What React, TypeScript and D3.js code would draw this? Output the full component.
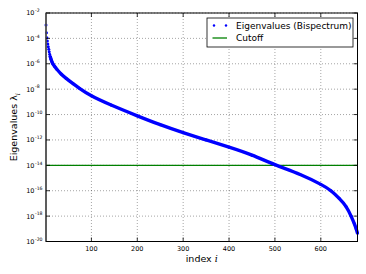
import * as d3 from "d3";

// eigenvalue index and value
const eigIndex = [1, 2, 3, 4, 5, 6, 7, 8, 9, 10, 12, 14, 16, 20, 25, 34, 45, 60, 74, 100, 143, 200, 250, 300, 350, 400, 450, 500, 555, 600, 622, 640, 655, 666, 673, 677, 680];
const eigExp = [-2.95, -3.55, -3.95, -4.2, -4.45, -4.65, -4.85, -5.05, -5.25, -5.4, -5.65, -5.85, -6.0, -6.22, -6.45, -6.8, -7.15, -7.57, -7.93, -8.52, -9.25, -10.1, -10.8, -11.43, -12.0, -12.57, -13.2, -13.95, -14.72, -15.5, -16.0, -16.6, -17.25, -18.0, -18.6, -19.0, -19.35];
const cutoff = 1e-14;

const xTicks = [100, 200, 300, 400, 500, 600];
const yTickExps = [-20, -18, -16, -14, -12, -10, -8, -6, -4, -2];

const W = 366, H = 274;
const left = 46, right = 357.5, top = 13, bottom = 241.5;

export default function App() {
    const x = d3.scaleLinear().domain([1, 680]).range([left, right]);
    const y = d3.scaleLog().domain([1e-20, 1e-2]).range([bottom, top]);

    const pts = eigIndex.map((d, i) => ({ i: d, v: Math.pow(10, eigExp[i]) }));

    const line = d3.line<{ i: number; v: number }>()
        .x(d => x(d.i))
        .y(d => y(d.v))
        .curve(d3.curveNatural);

    const font = "DejaVu Sans, sans-serif";

    return (
        <svg width={W} height={H} style={{ position: "absolute", left: 0, top: 0, background: "#fff" }} fontFamily={font}>
            {/* grid */}
            {xTicks.map(t => (
                <line key={"gx" + t} x1={x(t)} x2={x(t)} y1={top} y2={bottom} stroke="#000" strokeOpacity={0.45} strokeWidth={0.8} strokeDasharray="1,2" />
            ))}
            {yTickExps.map(e => (
                <line key={"gy" + e} x1={left} x2={right} y1={y(Math.pow(10, e))} y2={y(Math.pow(10, e))} stroke="#000" strokeOpacity={0.45} strokeWidth={0.8} strokeDasharray="1,2" />
            ))}

            {/* cutoff */}
            <line x1={left} x2={right} y1={y(cutoff)} y2={y(cutoff)} stroke="#008000" strokeWidth={1.3} />

            {/* eigenvalues */}
            <path d={line(pts.filter(p => p.i >= 10)) ?? ""} fill="none" stroke="#0000ff" strokeWidth={3.4} />
            {pts.map(p => (
                <circle key={"p" + p.i} cx={x(p.i)} cy={y(p.v)} r={1.5} fill="#0000ff" />
            ))}

            {/* frame */}
            <rect x={left} y={top} width={right - left} height={bottom - top} fill="none" stroke="#000" strokeWidth={1} />
            <line x1={left} x2={left} y1={top} y2={bottom} stroke="#555" strokeWidth={1.6} />

            {/* ticks */}
            {xTicks.map(t => (
                <g key={"tx" + t}>
                    <line x1={x(t)} x2={x(t)} y1={bottom} y2={bottom - 4} stroke="#000" strokeWidth={0.8} />
                    <line x1={x(t)} x2={x(t)} y1={top} y2={top + 4} stroke="#000" strokeWidth={0.8} />
                    <text x={x(t)} y={bottom + 9} fontSize={6.5} textAnchor="middle">{t}</text>
                </g>
            ))}
            {yTickExps.map(e => {
                const ty = y(Math.pow(10, e));
                return (
                    <g key={"ty" + e}>
                        <line x1={left} x2={left + 4} y1={ty} y2={ty} stroke="#000" strokeWidth={0.8} />
                        <line x1={right} x2={right - 4} y1={ty} y2={ty} stroke="#000" strokeWidth={0.8} />
                        <text x={34.5} y={ty + 2.4} fontSize={6.5} textAnchor="end">10</text>
                        <text x={35} y={ty - 0.8} fontSize={4.6} textAnchor="start">{e}</text>
                    </g>
                );
            })}

            {/* axis labels */}
            <text x={(left + right) / 2} y={262} fontSize={9.5} textAnchor="middle">
                index <tspan fontStyle="italic" fontFamily="DejaVu Serif, serif">i</tspan>
            </text>
            <text transform={`translate(17,${(top + bottom) / 2}) rotate(-90)`} fontSize={9.5} textAnchor="middle">
                Eigenvalues λ<tspan fontSize={6.5} dy={2.5} fontStyle="italic" fontFamily="DejaVu Serif, serif">i</tspan>
            </text>

            {/* legend */}
            <rect x={207} y={18} width={146} height={29} fill="#fff" stroke="#000" strokeWidth={0.8} />
            <circle cx={214} cy={25.5} r={1.2} fill="#0000ff" />
            <circle cx={226} cy={25.5} r={1.2} fill="#0000ff" />
            <text x={236} y={28.8} fontSize={9}>Eigenvalues (Bispectrum)</text>
            <line x1={212.5} x2={227} y1={38} y2={38} stroke="#008000" strokeWidth={1.3} />
            <text x={236} y={41.3} fontSize={9}>Cutoff</text>
        </svg>
    );
}
